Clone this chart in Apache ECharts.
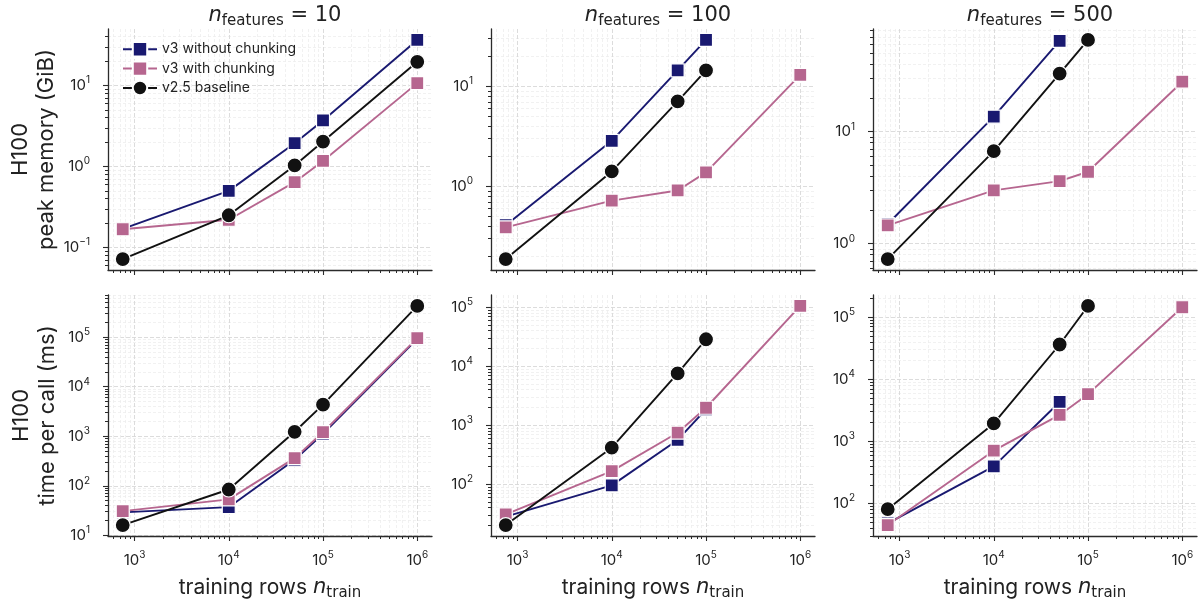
<!DOCTYPE html>
<html>
<head>
<meta charset="utf-8">
<script src="https://cdn.jsdelivr.net/npm/echarts@6/dist/echarts.min.js"></script>
<style>
  html, body { margin: 0; padding: 0; background: #ffffff; }
  #chart { width: 1202px; height: 610px; }
</style>
</head>
<body>
<div id="chart"></div>
<script>
// Training set sizes (x) and feature counts (columns)
const trainRows = [750, 1e4, 5e4, 1e5, 1e6];
const featureCounts = [10, 100, 500];
const seriesNames = ['v3 without chunking', 'v3 with chunking', 'v2.5 baseline'];
const xTickExponents = [3, 4, 5, 6];

// Peak memory on H100 (GiB); null = not run
const memNoChunk10  = [0.17, 0.50, 1.94, 3.7, 36.5];
const memChunk10    = [0.168, 0.22, 0.64, 1.17, 10.7];
const memBase10     = [0.072, 0.25, 1.03, 2.03, 19.6];
const memNoChunk100 = [0.41, 2.85, 14.4, 29.0, null];
const memChunk100   = [0.39, 0.72, 0.91, 1.38, 13.0];
const memBase100    = [0.188, 1.41, 7.05, 14.4, null];
const memNoChunk500 = [1.5, 13.6, 64.5, null, null];
const memChunk500   = [1.46, 2.99, 3.62, 4.39, 27.9];
const memBase500    = [0.73, 6.7, 33.0, 65.8, null];

// Time per call on H100 (ms)
const timeNoChunk10  = [29, 37, 335, 1120, 93000];
const timeChunk10    = [30.8, 53, 361, 1205, 95500];
const timeBase10     = [16.1, 84, 1230, 4340, 427000];
const timeNoChunk100 = [28, 95, 560, 1850, null];
const timeChunk100   = [30.7, 166, 744, 1970, 105000];
const timeBase100    = [20.2, 415, 7520, 28600, null];
const timeNoChunk500 = [48, 395, 4300, null, null];
const timeChunk500   = [45, 708, 2660, 5750, 144000];
const timeBase500    = [81, 1940, 36200, 151000, null];

const rowsData = [
  [[memNoChunk10, memChunk10, memBase10],
   [memNoChunk100, memChunk100, memBase100],
   [memNoChunk500, memChunk500, memBase500]],
  [[timeNoChunk10, timeChunk10, timeBase10],
   [timeNoChunk100, timeChunk100, timeBase100],
   [timeNoChunk500, timeChunk500, timeBase500]]
];
const rowLabels = ['H100\npeak memory (GiB)', 'H100\ntime per call (ms)'];

const FONT = 'Inter, "DejaVu Sans", sans-serif';
const MATH = '"DejaVu Sans", sans-serif';
const TEXT = '#222222';
const SPINE = '#2b2b2b';
const COLORS = ['#191970', '#b6668f', '#111111'];
const SYMBOLS = ['rect', 'rect', 'circle'];
const SIZES = [13, 13, 15];

const colLefts = [108, 491, 873];
const rowTops = [29, 295];
const panelW = 324, panelH = 241;

// log10 extent with 5% padding on each side
function logRange(values) {
  const logs = values.filter(v => v != null).map(Math.log10);
  const lo = Math.min(...logs), hi = Math.max(...logs);
  const pad = (hi - lo) * 0.05;
  return [lo - pad, hi + pad];
}
function majorLogs(lo, hi) {
  const out = [];
  for (let e = Math.ceil(lo); e <= Math.floor(hi); e++) out.push(e);
  return out;
}
function minorLogs(lo, hi) {
  const out = [];
  for (let e = Math.floor(lo); e <= Math.ceil(hi); e++) {
    for (let k = 2; k <= 9; k++) {
      const v = e + Math.log10(k);
      if (v >= lo && v <= hi) out.push(v);
    }
  }
  return out;
}
function powLabel(v) {
  const e = Math.round(v);
  return '{b|10}{s|' + String(e).replace('-', '\u2212') + '}';
}
const powRich = {
  b: { fontFamily: FONT, fontSize: 15, color: TEXT, lineHeight: 20 },
  s: { fontFamily: FONT, fontSize: 10, color: TEXT, lineHeight: 12, verticalAlign: 'top' }
};

const xRange = logRange(trainRows);
const xMinor = minorLogs(xRange[0], xRange[1]);

const grids = [], xAxes = [], yAxes = [], series = [];
let g = 0;
for (let r = 0; r < 2; r++) {
  for (let c = 0; c < 3; c++) {
    const panel = rowsData[r][c];
    const yRange = logRange([].concat(...panel));
    grids.push({ left: colLefts[c], top: rowTops[r], width: panelW, height: panelH });

    // major x axis: spine, decade ticks, labels, main grid
    xAxes.push({
      type: 'value', gridIndex: g, position: 'bottom',
      min: xRange[0], max: xRange[1],
      axisLine: { show: true, onZero: false, lineStyle: { color: SPINE, width: 1.3 } },
      axisTick: { show: true, inside: false, length: 5, customValues: xTickExponents,
                  lineStyle: { color: SPINE, width: 1.1 } },
      axisLabel: { show: r === 1, customValues: xTickExponents, margin: 14,
                   formatter: powLabel, rich: powRich },
      splitLine: { show: true, lineStyle: { color: '#d8d8d8', width: 0.9, type: [4, 2] } },
      name: r === 1 ? '{t|training rows }{i|n}{s|train}' : '',
      nameLocation: 'middle', nameGap: 39,
      nameTextStyle: {
        rich: {
          t: { fontFamily: FONT, fontSize: 21, color: TEXT, lineHeight: 26 },
          i: { fontFamily: MATH, fontStyle: 'italic', fontSize: 21, color: TEXT, lineHeight: 26 },
          s: { fontFamily: MATH, fontSize: 15, color: TEXT, lineHeight: 16, verticalAlign: 'bottom' }
        }
      }
    });
    // minor x axis: 2..9 ticks and faint grid
    xAxes.push({
      type: 'value', gridIndex: g, position: 'bottom',
      min: xRange[0], max: xRange[1],
      axisLine: { show: false, onZero: false },
      axisTick: { show: true, length: 3, customValues: xMinor,
                  lineStyle: { color: SPINE, width: 1 } },
      axisLabel: { show: false },
      splitLine: { show: true, lineStyle: { color: '#eeeeee', width: 0.8, type: [3, 2] } }
    });

    const yMajor = majorLogs(yRange[0], yRange[1]);
    const yMinor = minorLogs(yRange[0], yRange[1]);
    yAxes.push({
      type: 'value', gridIndex: g, position: 'left',
      min: yRange[0], max: yRange[1],
      axisLine: { show: true, onZero: false, lineStyle: { color: SPINE, width: 1.3 } },
      axisTick: { show: true, length: 5, customValues: yMajor,
                  lineStyle: { color: SPINE, width: 1.1 } },
      axisLabel: { show: true, customValues: yMajor, margin: 18,
                   formatter: powLabel, rich: powRich },
      splitLine: { show: true, lineStyle: { color: '#d8d8d8', width: 0.9, type: [4, 2] } },
      name: c === 0 ? rowLabels[r] : '',
      nameLocation: 'middle', nameRotate: 90, nameGap: 48,
      nameTextStyle: { fontFamily: FONT, fontSize: 22, lineHeight: 26, color: TEXT, align: 'center' }
    });
    yAxes.push({
      type: 'value', gridIndex: g, position: 'left',
      min: yRange[0], max: yRange[1],
      axisLine: { show: false, onZero: false },
      axisTick: { show: true, length: 3, customValues: yMinor,
                  lineStyle: { color: SPINE, width: 1 } },
      axisLabel: { show: false },
      splitLine: { show: true, lineStyle: { color: '#eeeeee', width: 0.8, type: [3, 2] } }
    });

    for (let s = 0; s < 3; s++) {
      const vals = panel[s];
      const data = [];
      trainRows.forEach((x, i) => {
        if (vals[i] != null) data.push([Math.log10(x), Math.log10(vals[i])]);
      });
      series.push({
        type: 'line', name: seriesNames[s],
        xAxisIndex: 2 * g, yAxisIndex: 2 * g,
        data: data,
        symbol: SYMBOLS[s], symbolSize: SIZES[s],
        itemStyle: { color: COLORS[s], borderColor: '#ffffff', borderWidth: 1.2 },
        lineStyle: { color: COLORS[s], width: 1.9 },
        z: 3 + s,
        emphasis: { disabled: true }
      });
    }
    g++;
  }
}

const titles = featureCounts.map((nf, c) => ({
  text: '{i|n}{s|features}{t| = ' + nf + '}',
  left: colLefts[c] + panelW / 2, top: -2, textAlign: 'center',
  textStyle: {
    fontWeight: 'normal',
    rich: {
      i: { fontFamily: MATH, fontStyle: 'italic', fontWeight: 'normal', fontSize: 21, color: TEXT, lineHeight: 26 },
      s: { fontFamily: MATH, fontWeight: 'normal', fontSize: 15, color: TEXT, lineHeight: 16, verticalAlign: 'bottom' },
      t: { fontFamily: MATH, fontWeight: 'normal', fontSize: 21, color: TEXT, lineHeight: 26 }
    }
  }
}));

const chart = echarts.init(document.getElementById('chart'), null, { renderer: 'canvas' });
chart.setOption({
  backgroundColor: '#ffffff',
  animation: false,
  title: titles,
  legend: {
    data: seriesNames, orient: 'vertical', left: 117, top: 36,
    itemWidth: 34, itemHeight: 18, itemGap: 3,
    textStyle: { fontFamily: FONT, fontSize: 14, color: TEXT }
  },
  grid: grids,
  xAxis: xAxes,
  yAxis: yAxes,
  series: series
});
</script>
</body>
</html>
